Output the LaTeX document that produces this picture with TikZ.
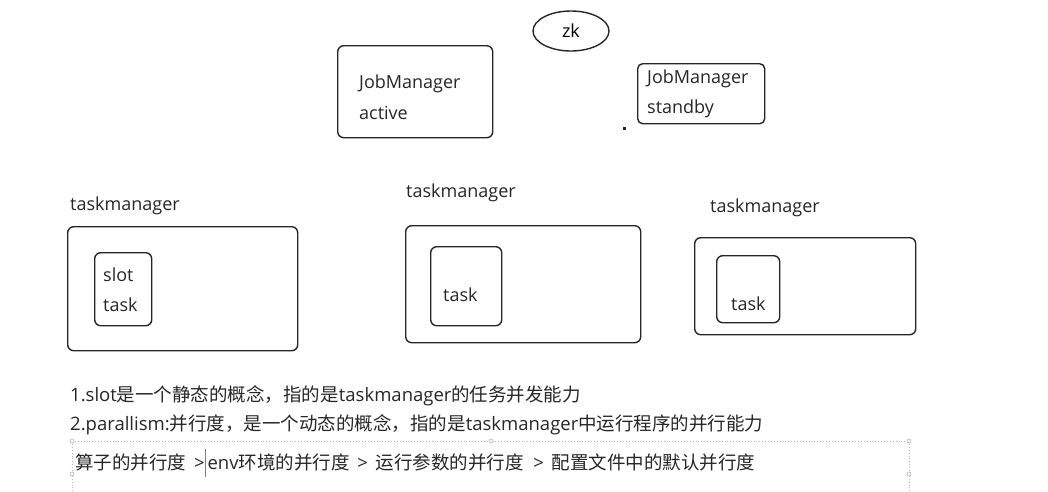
\documentclass[tikz,border=0pt]{standalone}
\usepackage{fontspec}
\setmainfont{Open Sans}
\newfontfamily\zhfont{Noto Sans CJK SC}
\usetikzlibrary{shapes.geometric}
\newcommand{\zh}[1]{{\zhfont #1}}
\tikzset{
  fbox/.style={draw=black!85,line width=1.4pt,rounded corners=6pt,anchor=north west,inner sep=0pt},
  flab/.style={font=\fontsize{18}{30.5}\selectfont,inner sep=0pt,align=left,anchor=west,text=black!85},
  fnote/.style={font=\fontsize{18.5}{20}\selectfont,inner sep=0pt,anchor=west,text=black!85},
  fhandle/.style={draw=gray!70,fill=white,line width=0.5pt,inner sep=0pt,minimum size=4pt,circle},
}
\begin{document}
\begin{tikzpicture}[x=1pt,y=-1pt]
\useasboundingbox (0,0) rectangle (1048,491);
% ---- zookeeper and the two job managers
\node[draw=black!85,line width=1.4pt,ellipse,minimum width=76pt,minimum height=40pt,
  font=\fontsize{18}{20}\selectfont] (zk) at (571,31) {zk};
\node[fbox,minimum width=155pt,minimum height=92pt] (jmA) at (337,45) {};
\node[flab] (jmAtxt) at (359,97) {JobManager\\active};
\node[fbox,rounded corners=5pt,minimum width=127pt,minimum height=60pt] (jmS) at (637,63) {};
\node[flab] (jmStxt) at (647,94) {JobManager\\standby};
\fill[black!85] (622.5,126.5) rectangle (625.5,129.5);
% ---- task managers
\node[flab] (tmlabA) at (70,206) {taskmanager};
\node[fbox,minimum width=230pt,minimum height=124pt] (tmA) at (67,226) {};
\node[fbox,minimum width=57pt,minimum height=73pt] (slotA) at (94,252) {};
\node[flab] (slotAtxt) at (103,289.5) {slot\\task};
\node[flab] (tmlabB) at (406,193) {taskmanager};
\node[fbox,minimum width=235pt,minimum height=117pt] (tmB) at (405,225) {};
\node[fbox,minimum width=71pt,minimum height=79pt] (taskB) at (430,246) {};
\node[flab] (taskBtxt) at (443,295) {task};
\node[flab] (tmlabC) at (710,208) {taskmanager};
\node[fbox,minimum width=221pt,minimum height=97pt] (tmC) at (694,237) {};
\node[fbox,minimum width=63pt,minimum height=67pt] (taskC) at (716,255) {};
\node[flab] (taskCtxt) at (731,304) {task};
% ---- notes
\node[fnote] (note1) at (70,396) {1.slot\zh{是一个静态的概念，指的是}taskmanager\zh{的任务并发能力}};
\node[fnote] (note2) at (70,425) {2.parallism:\zh{并行度，是一个动态的概念，指的是}taskmanager\zh{中运行程序的并行能力}};
% the selected text frame
\draw[blue!25!gray!45,line width=0.9pt,dotted] (72,441) -- (909,441) (72,441) -- (72,491) (909,441) -- (909,491);
\foreach \P in {(72,441),(491,441),(909,441),(72,474),(909,474)}
  \node[fhandle] at \P {};
\node[fnote] (note3) at (75,462) {\zh{算子的并行度}\hspace{3pt} >\hspace{3pt}env\zh{环境的并行度}\hspace{3pt} >\hspace{3pt} \zh{运行参数的并行度}\ \ >\hspace{3pt} \zh{配置文件中的默认并行度}};
\draw[gray,line width=0.7pt] (205,449) -- (205,477);
\end{tikzpicture}
\end{document}
